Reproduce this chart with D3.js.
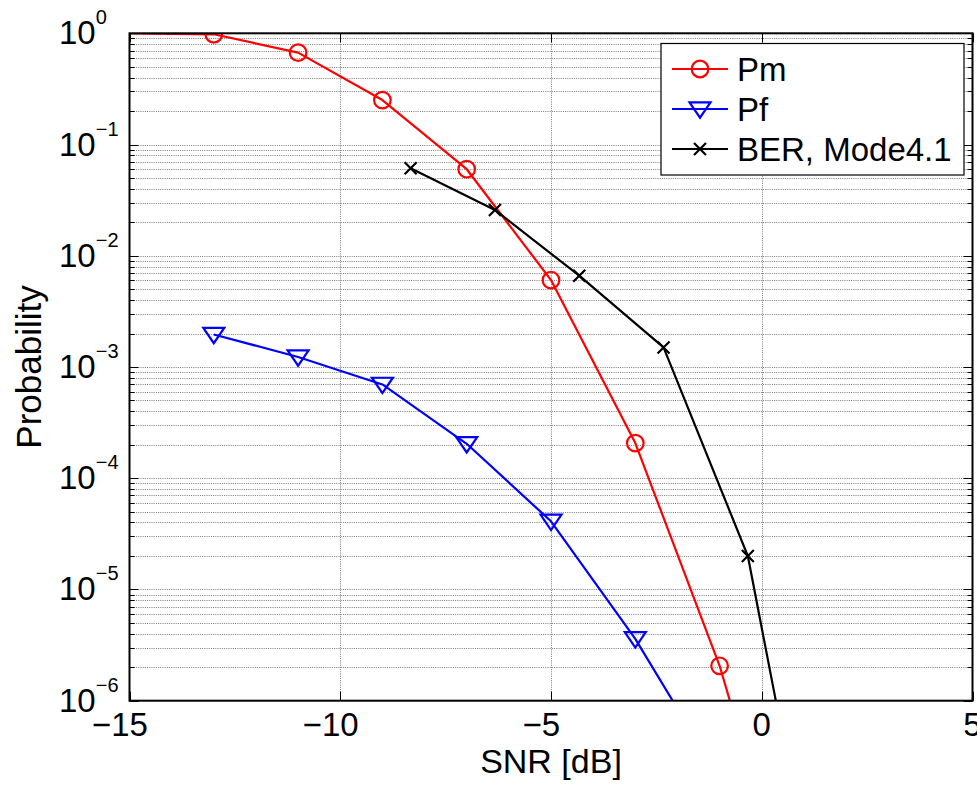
<!DOCTYPE html>
<html>
<head>
<meta charset="utf-8">
<script src="https://cdn.jsdelivr.net/npm/d3@7"></script>
<style>
  html, body { margin: 0; padding: 0; background: #fff; }
  svg { display: block; font-family: "Liberation Sans", Arial, sans-serif; }
</style>
</head>
<body>
<svg id="chart" width="977" height="785"></svg>
<script>
// ---- Data ----
const snrPm = [-15, -13, -11, -9, -7, -5, -3, -1, 1];
const pm    = [1.0, 0.98, 0.67, 0.251, 0.06, 0.00605, 2.07e-4, 2.06e-6, 5.5e-9];
const pmMarkerFrom = 1; // first point has no marker

const snrPf = [-13, -11, -9, -7, -5, -3, -1];
const pf    = [1.96e-3, 1.23e-3, 6.97e-4, 2.04e-4, 4.1e-5, 3.6e-6, 2.0e-7];

const snrBer = [-8.33, -6.33, -4.33, -2.33, -0.33, 1.67];
const ber    = [0.0611, 0.0258, 6.62e-3, 1.5e-3, 2.0e-5, 2.4e-9];

const xTicks = [-15, -10, -5, 0, 5];
const yExponents = [0, -1, -2, -3, -4, -5, -6];
const legendLabels = ["Pm", "Pf", "BER, Mode4.1"];
const colors = { pm: "#ff0000", pf: "#0000ff", ber: "#000000" };

// ---- Layout ----
const L = 129.5, R = 972.5, T = 33.3, B = 700.7;
const svg = d3.select("#chart");
const x = d3.scaleLinear().domain([-15, 5]).range([L, R]);
const y = d3.scaleLog().domain([1e-6, 1]).range([B, T]);

svg.append("defs").append("clipPath").attr("id", "clip")
  .append("rect").attr("x", L).attr("y", T).attr("width", R - L).attr("height", B - T);

// ---- Grid ----
const grid = svg.append("g").attr("stroke", "#7a7a7a").attr("stroke-width", 1)
  .attr("stroke-dasharray", "1,1.2").attr("fill", "none");
const yGridVals = [];
for (let e = -6; e < 0; e++) for (let m = 1; m <= 9; m++) yGridVals.push(m * Math.pow(10, e));
yGridVals.forEach(v => {
  const yy = Math.round(y(v)) + 0.5;
  if (yy > B - 1 || yy < T + 1) return;
  grid.append("line").attr("x1", L).attr("x2", R).attr("y1", yy).attr("y2", yy);
});
xTicks.forEach(t => {
  const xx = Math.round(x(t)) + 0.5;
  if (xx <= L + 1 || xx >= R - 1) return;
  grid.append("line").attr("x1", xx).attr("x2", xx).attr("y1", T).attr("y2", B);
});

// ---- Ticks (inside, all four sides) ----
const tk = svg.append("g").attr("stroke", "#000").attr("stroke-width", 1);
yGridVals.concat([1]).forEach(v => {
  const yy = Math.round(y(v)) + 0.5;
  const major = Math.abs(Math.log10(v) - Math.round(Math.log10(v))) < 1e-9;
  const len = major ? 9 : 5;
  tk.append("line").attr("x1", L).attr("x2", L + len).attr("y1", yy).attr("y2", yy);
  tk.append("line").attr("x1", R - len).attr("x2", R).attr("y1", yy).attr("y2", yy);
});
xTicks.forEach(t => {
  const xx = Math.round(x(t)) + 0.5;
  tk.append("line").attr("x1", xx).attr("x2", xx).attr("y1", B - 9).attr("y2", B);
  tk.append("line").attr("x1", xx).attr("x2", xx).attr("y1", T).attr("y2", T + 9);
});

// ---- Series ----
const plot = svg.append("g").attr("clip-path", "url(#clip)");
const line = d3.line().x(d => x(d[0])).y(d => y(d[1]));

function drawLine(xs, ys, color) {
  plot.append("path").datum(xs.map((v, i) => [v, ys[i]]))
    .attr("d", line).attr("fill", "none").attr("stroke", color)
    .attr("stroke-width", 2.2).attr("stroke-linejoin", "round");
}
drawLine(snrPm, pm, colors.pm);
drawLine(snrPf, pf, colors.pf);
drawLine(snrBer, ber, colors.ber);

const triPath = "M-10.5,-6.7L10.5,-6.7L0,8.7Z";
const xPath = "M-6,-6L6,6M-6,6L6,-6";

function circleMarker(g, cx, cy) {
  g.append("circle").attr("cx", cx).attr("cy", cy).attr("r", 8.3)
    .attr("fill", "none").attr("stroke", colors.pm).attr("stroke-width", 2.2);
}
function triMarker(g, cx, cy) {
  g.append("path").attr("d", triPath).attr("transform", `translate(${cx},${cy})`)
    .attr("fill", "none").attr("stroke", colors.pf).attr("stroke-width", 2.2);
}
function xMarker(g, cx, cy) {
  g.append("path").attr("d", xPath).attr("transform", `translate(${cx},${cy})`)
    .attr("fill", "none").attr("stroke", colors.ber).attr("stroke-width", 2.2);
}
snrPm.forEach((s, i) => { if (i >= pmMarkerFrom) circleMarker(plot, x(s), y(pm[i])); });
snrPf.forEach((s, i) => triMarker(plot, x(s), y(pf[i])));
snrBer.forEach((s, i) => xMarker(plot, x(s), y(ber[i])));

// ---- Frame ----
svg.append("rect").attr("x", L).attr("y", T).attr("width", R - L).attr("height", B - T)
  .attr("fill", "none").attr("stroke", "#000").attr("stroke-width", 2);

// ---- Tick labels ----
const FS = 33;
const xl = svg.append("g").attr("font-size", FS).attr("fill", "#000");
xTicks.forEach(t => {
  const digits = String(Math.abs(t));
  const g = xl.append("text").attr("y", 736);
  if (t < 0) {
    // digits centered on the tick, minus sign hanging to the left
    const half = digits.length * 0.556 * FS / 2;
    g.attr("x", x(t) + half).attr("text-anchor", "end").text("\u2212" + digits);
  } else {
    g.attr("x", x(t)).attr("text-anchor", "middle").text(digits);
  }
});

const yl = svg.append("g").attr("font-size", FS).attr("fill", "#000");
yExponents.forEach(e => {
  const yy = y(Math.pow(10, e));
  const t = yl.append("text").attr("x", 59).attr("y", yy + 11).attr("text-anchor", "start");
  t.append("tspan").text("10");
  t.append("tspan").attr("dy", -20).attr("font-size", 20)
    .text(e < 0 ? "\u2212" + Math.abs(e) : String(e));
});

// ---- Axis titles ----
svg.append("text").attr("x", (L + R) / 2).attr("y", 773).attr("text-anchor", "middle")
  .attr("font-size", 34).text("SNR [dB]");
svg.append("text").attr("transform", `translate(41,${(T + B) / 2}) rotate(-90)`)
  .attr("text-anchor", "middle").attr("font-size", 35).text("Probability");

// ---- Legend ----
const lg = svg.append("g");
lg.append("rect").attr("x", 661).attr("y", 43.5).attr("width", 303).attr("height", 131.5)
  .attr("fill", "#fff").attr("stroke", "#000").attr("stroke-width", 1.2);
const legY = [69, 109, 149];
const legColors = [colors.pm, colors.pf, colors.ber];
const legMarkers = [circleMarker, triMarker, xMarker];
legendLabels.forEach((lab, i) => {
  lg.append("line").attr("x1", 672).attr("x2", 728).attr("y1", legY[i]).attr("y2", legY[i])
    .attr("stroke", legColors[i]).attr("stroke-width", 2.2);
  legMarkers[i](lg, 700, legY[i]);
  lg.append("text").attr("x", 737).attr("y", legY[i] + 12).attr("font-size", FS)
    .text(lab);
});
</script>
</body>
</html>
